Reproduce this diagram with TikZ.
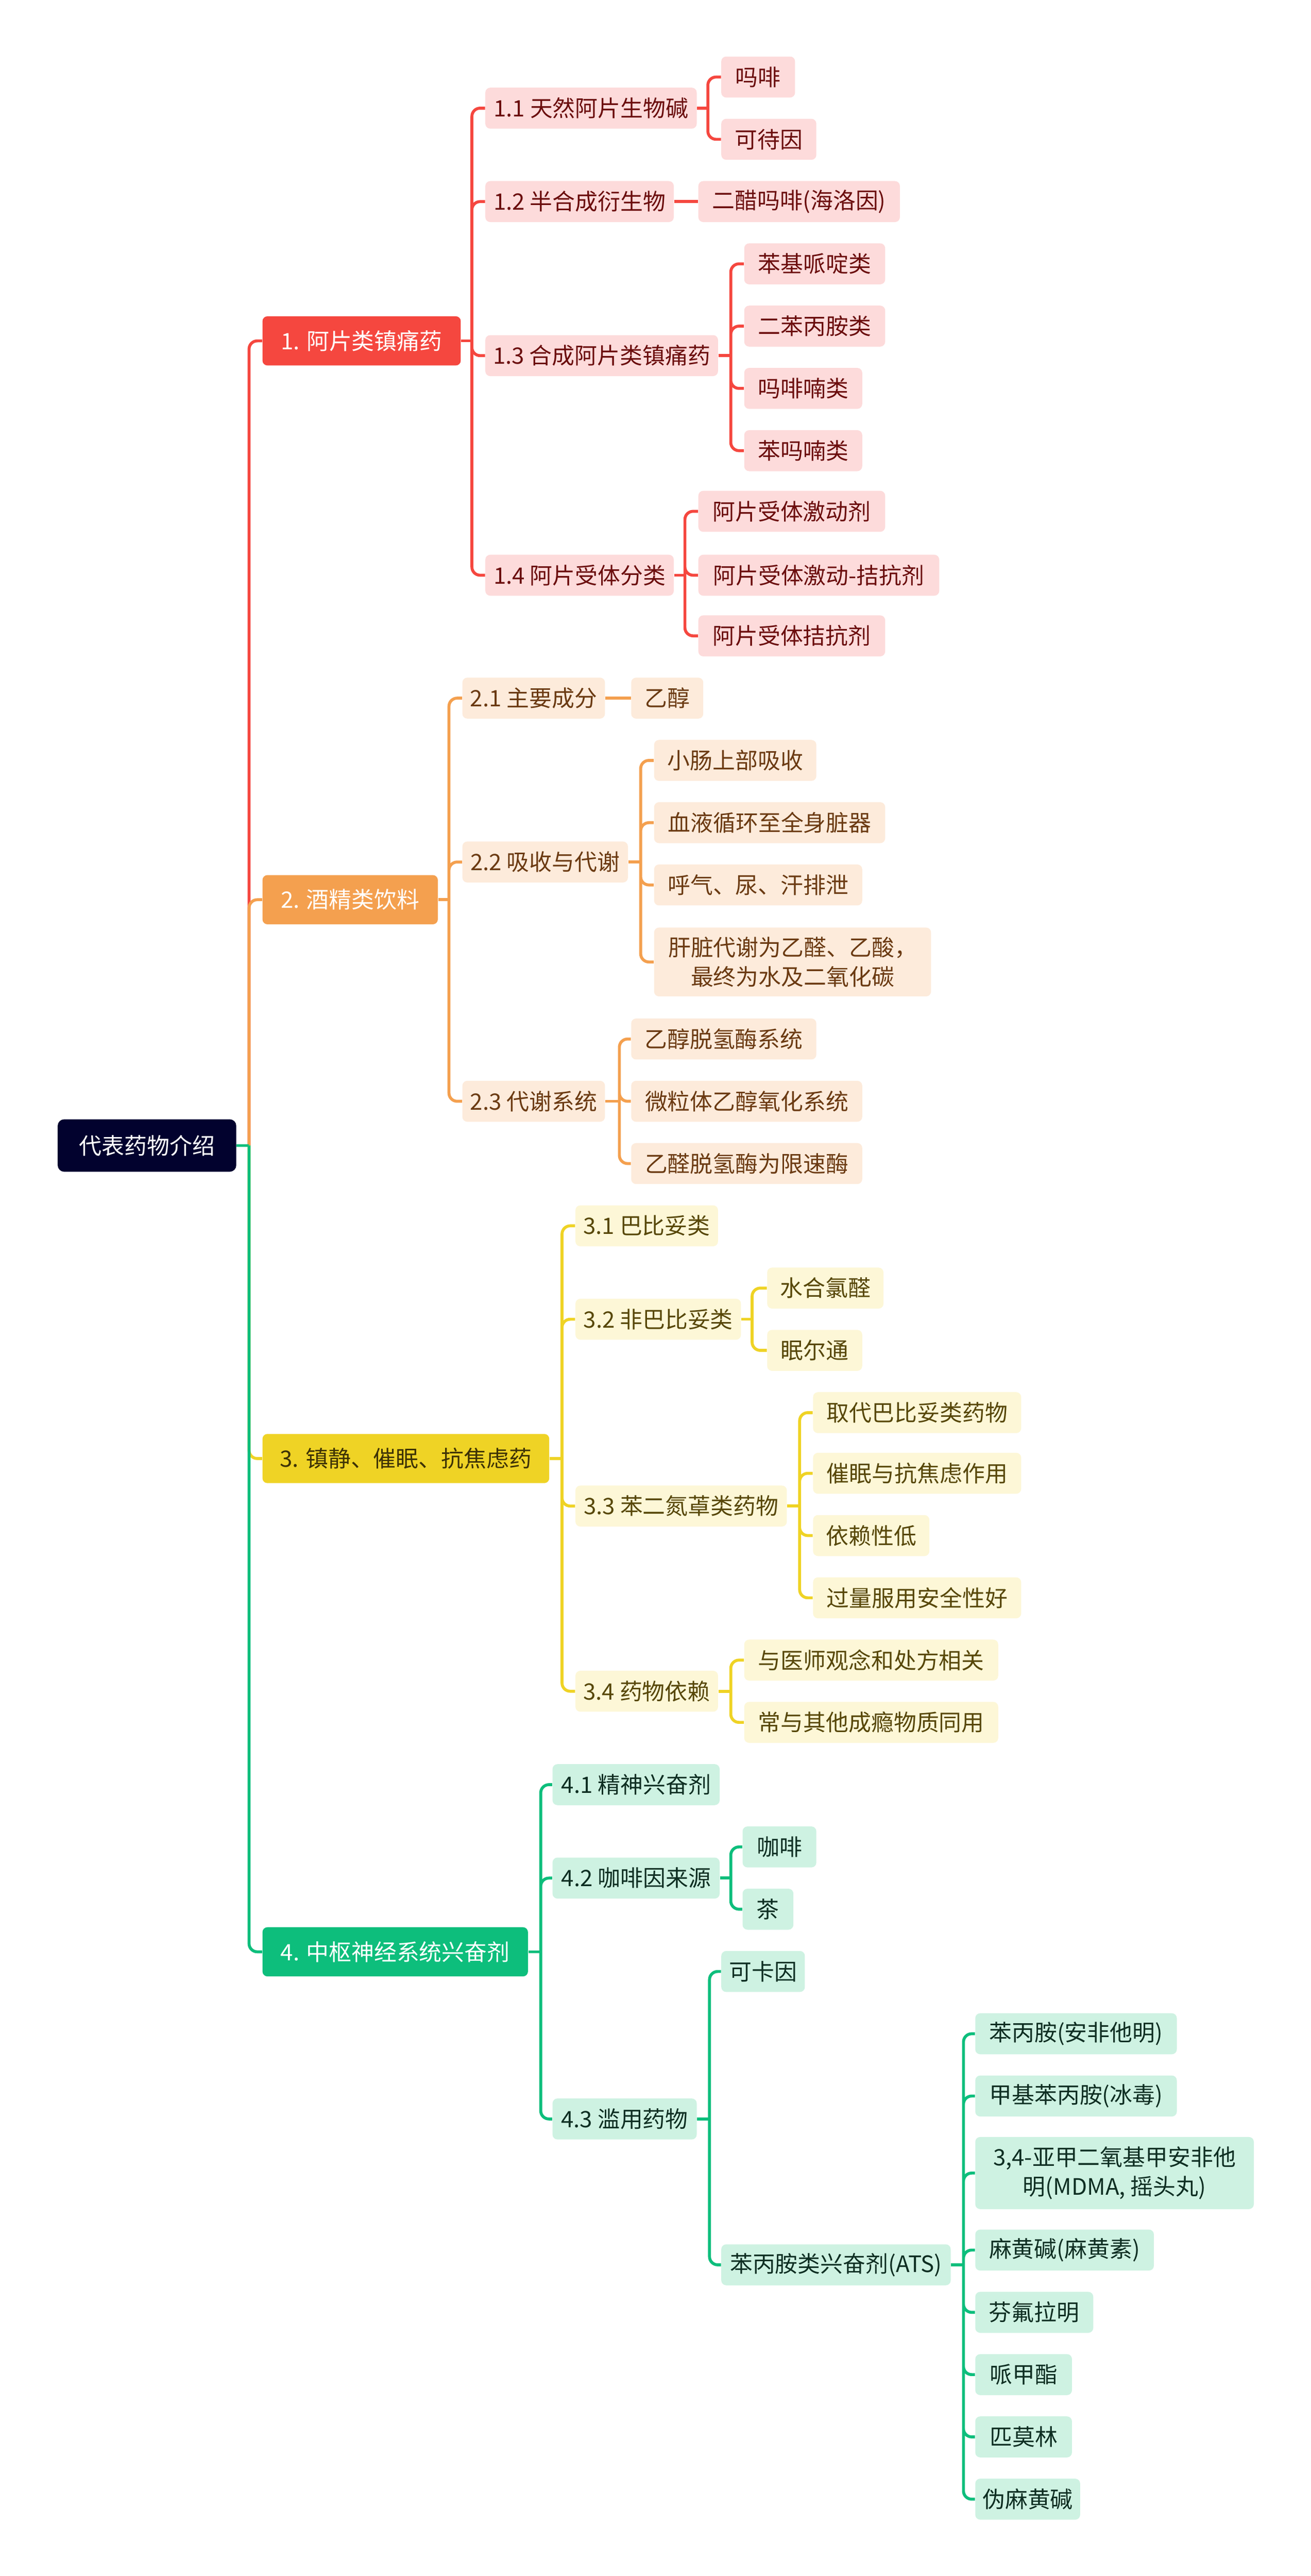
\documentclass[tikz,border=0pt]{standalone}
\usepackage{fontspec}
\newfontfamily\cjk{Noto Sans CJK SC}
\definecolor{rootc}{HTML}{02022E}
\definecolor{redA}{HTML}{F5473F}
\definecolor{redL}{HTML}{FDDBDB}
\definecolor{redT}{HTML}{6B0D0D}
\definecolor{orgA}{HTML}{F4A04F}
\definecolor{orgL}{HTML}{FDEBDB}
\definecolor{orgT}{HTML}{6B3A12}
\definecolor{yelA}{HTML}{EFD325}
\definecolor{yelL}{HTML}{FDF7D7}
\definecolor{yelT}{HTML}{574708}
\definecolor{grnA}{HTML}{0DBE7C}
\definecolor{grnL}{HTML}{CEF2E2}
\definecolor{grnT}{HTML}{0E2E22}
\tikzset{
  boxbase/.style={anchor=west, rounded corners=3pt, inner xsep=4pt, inner ysep=2pt,
    align=center, font=\cjk\fontsize{13.8}{18}\selectfont},
  headbox/.style={boxbase, minimum height=30pt},
  subbox/.style={boxbase, minimum height=25pt},
  rootbox/.style={boxbase, fill=rootc, text=white, minimum height=32pt, rounded corners=4pt},
  redhead/.style={headbox, fill=redA, text=white},
  redsub/.style={subbox, fill=redL, text=redT},
  orghead/.style={headbox, fill=orgA, text=white},
  orgsub/.style={subbox, fill=orgL, text=orgT},
  yelhead/.style={headbox, fill=yelA, text=yelT!70!black},
  yelsub/.style={subbox, fill=yelL, text=yelT},
  grnhead/.style={headbox, fill=grnA, text=white},
  grnsub/.style={subbox, fill=grnL, text=grnT},
  link/.style={line width=1.8pt, rounded corners=5pt},
  redlink/.style={link, draw=redA},
  orglink/.style={link, draw=orgA},
  yellink/.style={link, draw=yelA},
  grnlink/.style={link, draw=grnA}
}
\begin{document}
\begin{tikzpicture}[x=1pt,y=-1pt]
  \fill[white] (0,0) rectangle (800,1571.9);
  \node (r) at (35,699)[rootbox, minimum width=109pt] {代表药物介绍};
  \node (a1) at (160,208)[redhead, minimum width=121pt] {1. 阿片类镇痛药};
  \node (a2) at (160,549)[orghead, minimum width=107pt] {2. 酒精类饮料};
  \node (a3) at (160,890)[yelhead, minimum width=175pt] {3. 镇静、催眠、抗焦虑药};
  \node (a4) at (160,1191)[grnhead, minimum width=162pt] {4. 中枢神经系统兴奋剂};

  \node (b11) at (296,66)[redsub, minimum width=129pt] {1.1 天然阿片生物碱};
  \node (b12) at (296,123)[redsub, minimum width=115pt] {1.2 半合成衍生物};
  \node (b13) at (296,217)[redsub, minimum width=142pt] {1.3 合成阿片类镇痛药};
  \node (b14) at (296,351)[redsub, minimum width=115pt] {1.4 阿片受体分类};
  \node (c111) at (440,47)[redsub, minimum width=45pt] {吗啡};
  \node (c112) at (440,85)[redsub, minimum width=58pt] {可待因};
  \node (c121) at (426,123)[redsub, minimum width=123pt] {二醋吗啡(海洛因)};
  \node (c131) at (454,161)[redsub, minimum width=86pt] {苯基哌啶类};
  \node (c132) at (454,199)[redsub, minimum width=86pt] {二苯丙胺类};
  \node (c133) at (454,237)[redsub, minimum width=72pt] {吗啡喃类};
  \node (c134) at (454,275)[redsub, minimum width=72pt] {苯吗喃类};
  \node (c141) at (426,312)[redsub, minimum width=114pt] {阿片受体激动剂};
  \node (c142) at (426,351)[redsub, minimum width=147pt] {阿片受体激动-拮抗剂};
  \node (c143) at (426,388)[redsub, minimum width=114pt] {阿片受体拮抗剂};

  \node (b21) at (282,426)[orgsub, minimum width=87pt] {2.1 主要成分};
  \node (b22) at (282,526)[orgsub, minimum width=101pt] {2.2 吸收与代谢};
  \node (b23) at (282,672)[orgsub, minimum width=87pt] {2.3 代谢系统};
  \node (c211) at (385,426)[orgsub, minimum width=44pt] {乙醇};
  \node (c221) at (399,464)[orgsub, minimum width=99pt] {小肠上部吸收};
  \node (c222) at (399,502)[orgsub, minimum width=141pt] {血液循环至全身脏器};
  \node (c223) at (399,540)[orgsub, minimum width=127pt] {呼气、尿、汗排泄};
  \node (c224) at (399,587)[orgsub, minimum width=169pt, minimum height=42pt] {肝脏代谢为乙醛、乙酸，\\最终为水及二氧化碳};
  \node (c231) at (385,634)[orgsub, minimum width=113pt] {乙醇脱氢酶系统};
  \node (c232) at (385,672)[orgsub, minimum width=141pt] {微粒体乙醇氧化系统};
  \node (c233) at (385,710)[orgsub, minimum width=141pt] {乙醛脱氢酶为限速酶};

  \node (b31) at (351,748)[yelsub, minimum width=87pt] {3.1 巴比妥类};
  \node (b32) at (351,805)[yelsub, minimum width=101pt] {3.2 非巴比妥类};
  \node (b33) at (351,919)[yelsub, minimum width=129pt] {3.3 苯二氮䓬类药物};
  \node (b34) at (351,1032)[yelsub, minimum width=87pt] {3.4 药物依赖};
  \node (c321) at (468,786)[yelsub, minimum width=71pt] {水合氯醛};
  \node (c322) at (468,824)[yelsub, minimum width=58pt] {眠尔通};
  \node (c331) at (496,862)[yelsub, minimum width=127pt] {取代巴比妥类药物};
  \node (c332) at (496,899)[yelsub, minimum width=127pt] {催眠与抗焦虑作用};
  \node (c333) at (496,937)[yelsub, minimum width=71pt] {依赖性低};
  \node (c334) at (496,975)[yelsub, minimum width=127pt] {过量服用安全性好};
  \node (c341) at (454,1013)[yelsub, minimum width=155pt] {与医师观念和处方相关};
  \node (c342) at (454,1051)[yelsub, minimum width=155pt] {常与其他成瘾物质同用};

  \node (b41) at (337,1089)[grnsub, minimum width=102pt] {4.1 精神兴奋剂};
  \node (b42) at (337,1146)[grnsub, minimum width=102pt] {4.2 咖啡因来源};
  \node (b43) at (337,1293)[grnsub, minimum width=88pt] {4.3 滥用药物};
  \node (c421) at (453,1127)[grnsub, minimum width=45pt] {咖啡};
  \node (c422) at (453,1165)[grnsub, minimum width=31pt] {茶};
  \node (c431) at (440,1203)[grnsub, minimum width=51pt] {可卡因};
  \node (c432) at (440,1382)[grnsub, minimum width=140pt] {苯丙胺类兴奋剂(ATS)};
  \node (d1) at (595,1241)[grnsub, minimum width=123pt] {苯丙胺(安非他明)};
  \node (d2) at (595,1279)[grnsub, minimum width=123pt] {甲基苯丙胺(冰毒)};
  \node (d3) at (595,1326)[grnsub, minimum width=170pt, minimum height=44pt] {3,4-亚甲二氧基甲安非他\\明(MDMA, 摇头丸)};
  \node (d4) at (595,1373)[grnsub, minimum width=109pt] {麻黄碱(麻黄素)};
  \node (d5) at (595,1411)[grnsub, minimum width=72pt] {芬氟拉明};
  \node (d6) at (595,1449)[grnsub, minimum width=59pt] {哌甲酯};
  \node (d7) at (595,1487)[grnsub, minimum width=59pt] {匹莫林};
  \node (d8) at (595,1525)[grnsub, minimum width=64pt] {伪麻黄碱};

  \coordinate (j0) at (152,699);
  \coordinate (j1) at (288,208);
  \coordinate (j11) at (432,66);
  \coordinate (j13) at (446,217);
  \coordinate (j14) at (418,351);
  \coordinate (j2) at (274,549);
  \coordinate (j22) at (391,526);
  \coordinate (j23) at (378,672);
  \coordinate (j3) at (343,890);
  \coordinate (j32) at (459,805);
  \coordinate (j33) at (488,919);
  \coordinate (j34) at (446,1032);
  \coordinate (j4) at (330,1191);
  \coordinate (j42) at (446,1146);
  \coordinate (j43) at (433,1293);
  \coordinate (j432) at (588,1382);

  \draw[redlink] (j0) |- (a1.west);
  \draw[orglink] (j0) |- (a2.west);
  \draw[yellink] (j0) |- (a3.west);
  \draw[grnlink] (j0) |- (a4.west);
  \draw[grnlink] (r.east) -- (j0);

  \draw[redlink] (a1.east) -- (j1);
  \draw[redlink] (j1) |- (b11.west) (j1) |- (b12.west) (j1) |- (b13.west) (j1) |- (b14.west);
  \draw[redlink] (b11.east) -- (j11);
  \draw[redlink] (j11) |- (c111.west) (j11) |- (c112.west);
  \draw[redlink] (b12.east) -- (c121.west);
  \draw[redlink] (b13.east) -- (j13);
  \draw[redlink] (j13) |- (c131.west) (j13) |- (c132.west) (j13) |- (c133.west) (j13) |- (c134.west);
  \draw[redlink] (b14.east) -- (j14);
  \draw[redlink] (j14) |- (c141.west) (j14) |- (c142.west) (j14) |- (c143.west);

  \draw[orglink] (a2.east) -- (j2);
  \draw[orglink] (j2) |- (b21.west) (j2) |- (b22.west) (j2) |- (b23.west);
  \draw[orglink] (b21.east) -- (c211.west);
  \draw[orglink] (b22.east) -- (j22);
  \draw[orglink] (j22) |- (c221.west) (j22) |- (c222.west) (j22) |- (c223.west) (j22) |- (c224.west);
  \draw[orglink] (b23.east) -- (j23);
  \draw[orglink] (j23) |- (c231.west) (j23) |- (c232.west) (j23) |- (c233.west);

  \draw[yellink] (a3.east) -- (j3);
  \draw[yellink] (j3) |- (b31.west) (j3) |- (b32.west) (j3) |- (b33.west) (j3) |- (b34.west);
  \draw[yellink] (b32.east) -- (j32);
  \draw[yellink] (j32) |- (c321.west) (j32) |- (c322.west);
  \draw[yellink] (b33.east) -- (j33);
  \draw[yellink] (j33) |- (c331.west) (j33) |- (c332.west) (j33) |- (c333.west) (j33) |- (c334.west);
  \draw[yellink] (b34.east) -- (j34);
  \draw[yellink] (j34) |- (c341.west) (j34) |- (c342.west);

  \draw[grnlink] (a4.east) -- (j4);
  \draw[grnlink] (j4) |- (b41.west) (j4) |- (b42.west) (j4) |- (b43.west);
  \draw[grnlink] (b42.east) -- (j42);
  \draw[grnlink] (j42) |- (c421.west) (j42) |- (c422.west);
  \draw[grnlink] (b43.east) -- (j43);
  \draw[grnlink] (j43) |- (c431.west) (j43) |- (c432.west);
  \draw[grnlink] (c432.east) -- (j432);
  \draw[grnlink] (j432) |- (d1.west) (j432) |- (d2.west) (j432) |- (d3.west) (j432) |- (d4.west)
    (j432) |- (d5.west) (j432) |- (d6.west) (j432) |- (d7.west) (j432) |- (d8.west);
\end{tikzpicture}
\end{document}
